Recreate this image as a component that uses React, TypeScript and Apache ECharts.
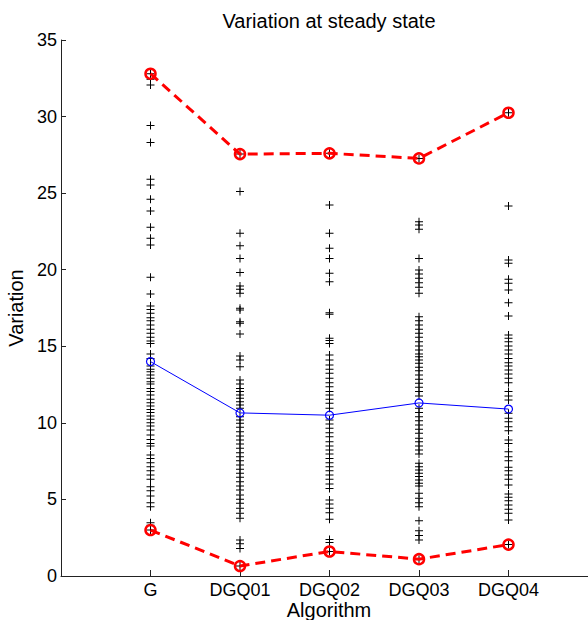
import React, { useEffect, useRef } from "react";
import * as echarts from "echarts";

const categories = ["G", "DGQ01", "DGQ02", "DGQ03", "DGQ04"];

const gValues = [32.8, 32.43, 32.06, 29.41, 28.3, 25.9, 25.53, 24.6, 23.83, 22.77, 22.05, 21.61, 19.5, 18.41, 17.63, 17.41, 17.15, 16.87, 16.67, 16.39, 16.11, 15.85, 15.59, 15.35, 15.19, 14.5, 14.21, 13.71, 13.5, 13.34, 13.13, 12.91, 12.69, 12.54, 12.25, 12.04, 11.82, 11.54, 11.32, 11.1, 10.88, 10.67, 10.45, 10.23, 10.01, 9.79, 9.53, 9.21, 8.92, 8.66, 8.49, 7.9, 7.68, 7.4, 7.14, 6.88, 6.6, 6.31, 5.83, 5.57, 5.22, 4.79, 4.53, 3.48, 3.31, 3.0];
const dgq01Values = [27.55, 25.1, 22.38, 21.57, 20.74, 19.81, 18.94, 18.72, 18.46, 17.48, 17.37, 16.61, 16.5, 15.8, 14.37, 14.1, 13.67, 12.8, 12.54, 12.25, 12.04, 11.82, 11.6, 11.38, 11.17, 10.95, 10.4, 10.19, 9.97, 9.71, 9.42, 9.14, 8.88, 8.62, 8.34, 8.05, 7.79, 7.53, 7.25, 6.97, 6.71, 6.45, 6.16, 5.88, 5.62, 5.29, 5.01, 4.75, 4.42, 4.09, 3.77, 2.35, 2.1, 1.8, 0.65];
const dgq02Values = [27.6, 24.23, 22.38, 21.4, 20.74, 19.77, 19.22, 17.19, 17.09, 15.52, 15.37, 15.19, 14.43, 14.11, 13.78, 13.5, 13.24, 12.91, 12.62, 12.36, 12.04, 11.82, 11.54, 11.28, 10.95, 10.19, 9.93, 9.64, 9.36, 9.1, 8.77, 8.49, 8.23, 7.97, 7.68, 7.4, 7.14, 6.88, 6.6, 6.31, 6.01, 5.72, 4.96, 4.7, 4.42, 4.13, 3.7, 2.39, 2.18, 1.6];
const dgq03Values = [27.27, 23.14, 22.92, 22.64, 20.74, 19.98, 19.72, 19.44, 19.15, 18.85, 18.46, 16.93, 16.67, 16.39, 16.11, 15.85, 15.59, 15.3, 15.02, 14.76, 14.5, 14.32, 14.1, 13.89, 13.63, 13.41, 13.13, 12.84, 12.58, 12.32, 12.04, 11.75, 10.95, 10.67, 10.4, 10.14, 9.86, 9.58, 9.32, 8.99, 8.77, 8.49, 8.23, 7.97, 7.36, 7.14, 6.92, 6.71, 6.49, 6.27, 6.05, 5.88, 5.4, 5.07, 4.79, 4.53, 3.6, 2.95, 2.65, 2.35, 1.1];
const dgq04Values = [30.25, 24.16, 20.63, 20.42, 19.37, 19.11, 18.68, 17.85, 16.98, 15.74, 15.52, 15.3, 15.02, 14.76, 14.5, 14.21, 13.93, 13.71, 13.45, 13.19, 12.91, 12.62, 12.04, 11.75, 11.49, 10.62, 10.3, 10.08, 9.75, 9.49, 8.88, 8.66, 8.12, 7.79, 7.53, 7.1, 6.88, 6.6, 6.31, 5.94, 5.35, 5.14, 4.92, 4.64, 4.36, 4.09, 3.66, 2.05];

const meanValues = [14.0, 10.65, 10.5, 11.3, 10.9];

const yTicks = [0, 5, 10, 15, 20, 25, 30, 35];

const columns = [gValues, dgq01Values, dgq02Values, dgq03Values, dgq04Values];

const FONT = "'Liberation Sans', Arial, Helvetica, sans-serif";

export default function App() {
  const ref = useRef<HTMLDivElement>(null);

  useEffect(() => {
    if (!ref.current) return;
    const chart = echarts.init(ref.current, null, { renderer: "svg" });

    const scatterData: number[][] = [];
    columns.forEach((col, i) => col.forEach((v) => scatterData.push([i + 1, v])));
    const maxData = columns.map((col, i) => [i + 1, Math.max(...col)]);
    const minData = columns.map((col, i) => [i + 1, Math.min(...col)]);
    const meanData = meanValues.map((v, i) => [i + 1, v]);

    const redSeries = (name: string, data: number[][]) => ({
      name,
      type: "line",
      data,
      symbol: "circle",
      symbolSize: 10,
      showSymbol: true,
      lineStyle: { color: "#ff0000", width: 3, type: [10, 6] },
      itemStyle: { color: "rgba(0,0,0,0)", borderColor: "#ff0000", borderWidth: 2.5 },
      z: 3,
    });

    const centeredText = (text: string, x: number, y: number) => ({
      type: "text",
      x,
      y,
      style: {
        text,
        font: `20px ${FONT}`,
        fill: "#000",
        textAlign: "center",
        align: "center",
        textVerticalAlign: "middle",
        verticalAlign: "middle",
      },
    });

    chart.setOption({
      animation: false,
      backgroundColor: "#ffffff",
      textStyle: { fontFamily: FONT },
      graphic: [
        centeredText("Variation at steady state", 329, 21),
        centeredText("Algorithm", 329, 610),
      ],
      grid: { left: 61, right: -10, top: 40, bottom: 44, containLabel: false, outerBoundsMode: "none" },
      xAxis: {
        type: "value",
        min: 0,
        max: 6,
        interval: 1,
        axisLine: { show: true, lineStyle: { color: "#222", width: 1 } },
        axisTick: { show: true, inside: true, length: 6, customValues: [1, 2, 3, 4, 5], lineStyle: { color: "#222" } },
        axisLabel: {
          show: true,
          customValues: [1, 2, 3, 4, 5],
          margin: 5,
          fontSize: 18,
          lineHeight: 18,
          color: "#000",
          fontFamily: FONT,
          formatter: (v: number) => categories[Math.round(v) - 1] ?? "",
        },
        splitLine: { show: false },
      },
      yAxis: {
        type: "value",
        min: 0,
        max: 35,
        interval: 5,
        name: "Variation",
        nameLocation: "middle",
        nameGap: 32,
        nameRotate: 90,
        nameTextStyle: { fontSize: 20, color: "#000", fontFamily: FONT },
        axisLine: { show: true, lineStyle: { color: "#222", width: 1 } },
        axisTick: { show: true, inside: true, length: 5, customValues: yTicks, lineStyle: { color: "#222" } },
        axisLabel: { show: true, customValues: yTicks, margin: 4, fontSize: 18, color: "#000", fontFamily: FONT },
        splitLine: { show: false },
      },
      series: [
        {
          name: "samples",
          type: "scatter",
          data: scatterData,
          symbol: "path://M0,3.5H8V4.5H0Z M3.5,0H4.5V8H3.5Z",
          symbolSize: 8,
          itemStyle: { color: "#000", opacity: 1 },
          z: 2,
        },
        {
          name: "mean",
          type: "line",
          data: meanData,
          symbol: "circle",
          symbolSize: 8,
          lineStyle: { color: "#0000ff", width: 1 },
          itemStyle: { color: "rgba(0,0,0,0)", borderColor: "#0000ff", borderWidth: 1.2 },
          z: 4,
        },
        redSeries("max", maxData),
        redSeries("min", minData),
      ],
    });

    return () => chart.dispose();
  }, []);

  return (
    <div
      ref={ref}
      style={{ position: "absolute", left: 0, top: 0, width: 588, height: 620, background: "#fff" }}
    />
  );
}
